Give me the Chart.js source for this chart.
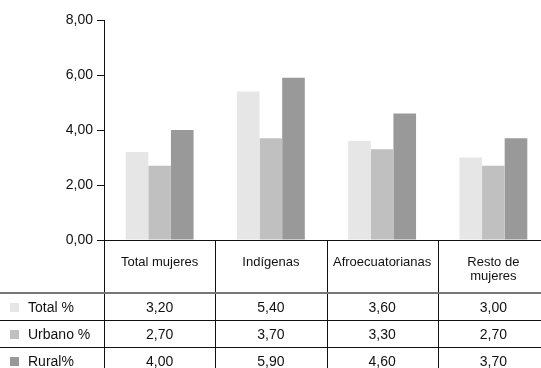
<!DOCTYPE html>
<html lang="es">
<head>
<meta charset="UTF-8">
<title>Mujeres por área</title>
<script src="https://cdn.jsdelivr.net/npm/chart.js"></script>
<style>
  body { margin: 0; overflow: hidden; background: #fff; }
  #wrap { width: 550px; height: 368px; }
</style>
</head>
<body>
<div id="wrap"><canvas id="grafico" width="550" height="368"></canvas></div>
<script>
const categorias = [['Total mujeres'], ['Indígenas'], ['Afroecuatorianas'], ['Resto de', 'mujeres']];
const series = ['Total %', 'Urbano %', 'Rural%'];
const totalPct = [3.2, 5.4, 3.6, 3.0];
const urbanoPct = [2.7, 3.7, 3.3, 2.7];
const ruralPct = [4.0, 5.9, 4.6, 3.7];
const colores = ['#e6e6e6', '#c0c0c0', '#999999'];

const fmt = v => v.toFixed(2).replace('.', ',');

// tabla de datos bajo el eje x
const tablaDatos = {
  id: 'tablaDatos',
  afterDraw(chart) {
    const c = chart.ctx;
    const x = chart.scales.x;
    const top = x.top;
    const n = categorias.length;
    const ancho = (x.right - x.left) / n;
    const filas = [top + 53, top + 80, top + 107, top + 134];
    c.save();
    c.strokeStyle = '#111';
    c.lineWidth = 1;
    // verticales
    for (let i = 0; i < n; i++) {
      const px = Math.round(x.left + i * ancho) + 0.5;
      c.beginPath();
      c.moveTo(px, top);
      c.lineTo(px, chart.height);
      c.stroke();
    }
    // horizontales
    c.strokeStyle = '#777';
    c.lineWidth = 2;
    c.beginPath();
    c.moveTo(0, filas[0]);
    c.lineTo(chart.width, filas[0]);
    c.stroke();
    c.strokeStyle = '#111';
    c.lineWidth = 1;
    for (let r = 1; r < 3; r++) {
      c.beginPath();
      c.moveTo(0, filas[r] + 0.5);
      c.lineTo(chart.width, filas[r] + 0.5);
      c.stroke();
    }
    // cabecera
    c.fillStyle = '#111';
    c.textAlign = 'center';
    c.textBaseline = 'middle';
    c.font = '13px "Liberation Sans", Arial, sans-serif';
    categorias.forEach((lab, i) => {
      const cx = x.getPixelForValue(i);
      lab.forEach((l, k) => c.fillText(l, cx, top + 22 + k * 14));
    });
    // filas
    c.font = '14px "Liberation Sans", Arial, sans-serif';
    chart.data.datasets.forEach((ds, r) => {
      const cy = (filas[r] + filas[r + 1]) / 2 + 1.5;
      c.fillStyle = ds.backgroundColor;
      c.fillRect(10, cy - 5, 9, 9);
      c.fillStyle = '#111';
      c.textAlign = 'left';
      c.fillText(ds.label, 28, cy);
      c.textAlign = 'center';
      ds.data.forEach((v, i) => c.fillText(fmt(v), x.getPixelForValue(i), cy));
    });
    c.restore();
  }
};

const ctx = document.getElementById('grafico').getContext('2d');
new Chart(ctx, {
  type: 'bar',
  data: {
    labels: categorias.map(l => l.join(' ')),
    datasets: [
      { label: series[0], data: totalPct, backgroundColor: colores[0] },
      { label: series[1], data: urbanoPct, backgroundColor: colores[1] },
      { label: series[2], data: ruralPct, backgroundColor: colores[2] }
    ]
  },
  options: {
    responsive: false,
    animation: false,
    layout: { padding: { top: 20, right: 1, left: 0, bottom: 0 } },
    datasets: { bar: { categoryPercentage: 0.61, barPercentage: 1 } },
    plugins: { legend: { display: false }, tooltip: { enabled: false } },
    scales: {
      x: {
        grid: { display: false },
        ticks: { display: false },
        border: { color: '#111', width: 1 },
        afterFit: s => { s.height = 128; }
      },
      y: {
        min: 0,
        max: 8,
        ticks: {
          stepSize: 2,
          color: '#111',
          padding: 4,
          font: { family: '"Liberation Sans", Arial, sans-serif', size: 14 },
          callback: v => fmt(v)
        },
        grid: { drawOnChartArea: false, tickLength: 7, color: '#111' },
        border: { color: '#111', width: 1 },
        afterFit: s => { s.width = 104; }
      }
    }
  },
  plugins: [tablaDatos]
});
</script>
</body>
</html>
